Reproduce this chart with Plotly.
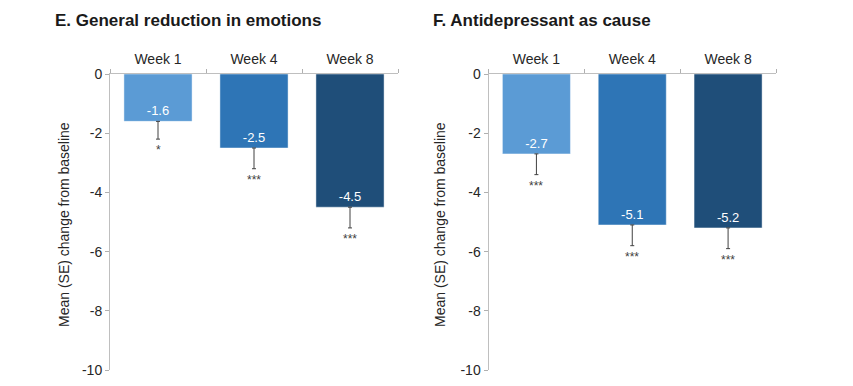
import plotly.graph_objects as go

weeks = ["Week 1", "Week 4", "Week 8"]
e_means = [-1.6, -2.5, -4.5]
e_se = [0.6, 0.7, 0.7]
e_sig = ["*", "***", "***"]
f_means = [-2.7, -5.1, -5.2]
f_se = [0.7, 0.7, 0.7]
f_sig = ["***", "***", "***"]
y_ticks = [0, -2, -4, -6, -8, -10]
panel_titles = ["E. General reduction in emotions", "F. Antidepressant as cause"]
y_title = "Mean (SE) change from baseline"
colors = ["#5b9bd5", "#2e75b6", "#1f4e79"]

W, H = 837, 370
OX, OY = 8, 8  # page offset of the figure in the photo


def fx(px):
    return (px - OX) / W


def fy(py):
    return 1 - (py - OY) / H


fig = go.Figure()

font = "Liberation Sans, Arial, sans-serif"
panels = [
    (e_means, e_se, e_sig, "x", "y"),
    (f_means, f_se, f_sig, "x2", "y2"),
]
for means, se, sig, xa, ya in panels:
    fig.add_trace(go.Bar(
        x=weeks, y=means, xaxis=xa, yaxis=ya,
        marker=dict(color=colors, line=dict(color="rgba(255,255,255,0.45)", width=1)),
        width=0.71,
        text=[f"{v:.1f}" for v in means],
        textposition="inside", insidetextanchor="end", textangle=0,
        insidetextfont=dict(color="white", size=13, family=font),
        error_y=dict(type="data", symmetric=False, array=[0] * len(means),
                     arrayminus=se, color="#404040", thickness=1, width=2),
        showlegend=False, hoverinfo="skip",
    ))
    for w, m, s, g in zip(weeks, means, se, sig):
        fig.add_annotation(x=w, y=m - s, xref=xa, yref=ya, text=g, showarrow=False,
                           yanchor="top", yshift=-2,
                           font=dict(size=12, color="#404040", family=font))

ax_common = dict(type="category", side="top", tickson="boundaries", ticks="outside",
                 ticklen=4, tickcolor="#b0b0b0", showline=True, linecolor="#bfbfbf",
                 linewidth=1, showgrid=False, zeroline=False, range=[-0.5, 2.5],
                 ticklabelstandoff=3, automargin=False,
                 tickfont=dict(size=14, color="#262626", family=font))
ay_common = dict(range=[-10, 0], tickvals=y_ticks, ticktext=[str(v) for v in y_ticks],
                 ticks="outside", ticklen=4, automargin=False,
                 tickcolor="#b0b0b0", showline=True, linecolor="#bfbfbf", linewidth=1,
                 showgrid=False, zeroline=False,
                 tickfont=dict(size=14, color="#262626", family=font))

yd = [fy(370), fy(74)]
fig.update_layout(
    width=W, height=H, margin=dict(l=0, r=0, t=0, b=0, autoexpand=False),
    paper_bgcolor="white", plot_bgcolor="white",
    xaxis=dict(domain=[fx(110), fx(398)], anchor="y", **ax_common),
    yaxis=dict(domain=yd, anchor="x", **ay_common),
    xaxis2=dict(domain=[fx(488.5), fx(776)], anchor="y2", **ax_common),
    yaxis2=dict(domain=yd, anchor="x2", **ay_common),
    bargap=0.29,
)

for tx, ax in [(panel_titles[0], 53), (panel_titles[1], 431)]:
    fig.add_annotation(x=fx(ax), y=fy(21), xref="paper", yref="paper", text=f"<b>{tx}</b>",
                       showarrow=False, xanchor="left", yanchor="middle",
                       font=dict(size=17, color="#1a1a1a", family=font))
for cx in [64, 440]:
    fig.add_annotation(x=fx(cx), y=fy(225), xref="paper", yref="paper", text=y_title,
                       showarrow=False, textangle=-90, xanchor="center", yanchor="middle",
                       font=dict(size=14, color="#262626", family=font))

fig.write_html("out.html")
